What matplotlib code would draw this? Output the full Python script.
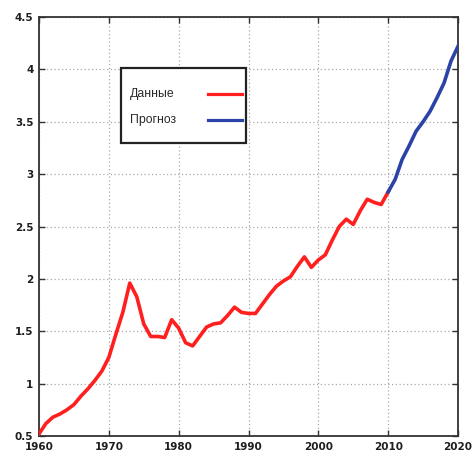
import matplotlib
matplotlib.use("Agg")
import matplotlib.pyplot as plt
from matplotlib.patches import Rectangle

# Observed series (1960-2010)
data_years = list(range(1960, 2011))
data_values = [0.52, 0.62, 0.68, 0.71, 0.75, 0.80, 0.88, 0.95, 1.03, 1.12,
               1.25, 1.47, 1.68, 1.96, 1.83, 1.57, 1.45, 1.45, 1.44, 1.61,
               1.53, 1.39, 1.36, 1.45, 1.54, 1.57, 1.58, 1.65, 1.73, 1.68,
               1.67, 1.67, 1.76, 1.85, 1.93, 1.98, 2.02, 2.12, 2.21, 2.11,
               2.18, 2.23, 2.37, 2.50, 2.57, 2.52, 2.65, 2.76, 2.73, 2.71,
               2.83]

# Forecast series (2010-2020)
forecast_years = list(range(2010, 2021))
forecast_values = [2.83, 2.95, 3.14, 3.27, 3.41, 3.50, 3.60, 3.73, 3.87, 4.08, 4.22]

x_ticks = [1960, 1970, 1980, 1990, 2000, 2010, 2020]
y_ticks = [0.5, 1, 1.5, 2, 2.5, 3, 3.5, 4, 4.5]
y_tick_labels = ["0.5", "1", "1.5", "2", "2.5", "3", "3.5", "4", "4.5"]
legend_labels = ["Данные", "Прогноз"]

red = "#ff1f1f"
blue = "#2b43a6"

fig = plt.figure(figsize=(4.73, 4.54), dpi=100)
ax = fig.add_axes([39 / 473, 18 / 454, 419 / 473, 419 / 454])

ax.plot(data_years, data_values, color=red, lw=2.6, solid_joinstyle="round", zorder=3)
ax.plot(forecast_years, forecast_values, color=blue, lw=2.6, solid_joinstyle="round", zorder=3)

ax.set_xlim(1960, 2020)
ax.set_ylim(0.5, 4.5)
ax.set_xticks(x_ticks)
ax.set_yticks(y_ticks)
ax.set_yticklabels(y_tick_labels)

ax.grid(True, color="#a8a8a8", linestyle=(0, (1, 2)), lw=0.9)
ax.tick_params(direction="in", length=4, width=1, color="#333333",
               top=True, right=True, labelsize=7.5, pad=4)
for lab in ax.get_xticklabels() + ax.get_yticklabels():
    lab.set_fontweight("bold")
    lab.set_fontfamily("DejaVu Sans")
    lab.set_color("#1e1e1e")
for sp in ax.spines.values():
    sp.set_linewidth(1.3)
    sp.set_color("#333333")

# Legend box: labels on the left, line samples on the right
to_ax = lambda px, py: ((px - 39) / 419, (437 - py) / 419)
x0, y0 = to_ax(121, 144)
x1, y1 = to_ax(246, 69)
ax.add_patch(Rectangle((x0, y0), x1 - x0, y1 - y0, transform=ax.transAxes,
                       facecolor="white", edgecolor="#222222", lw=1.6, zorder=5))
for label, color, py in zip(legend_labels, [red, blue], [95, 121]):
    tx, ty = to_ax(130, py)
    ax.text(tx, ty, label, transform=ax.transAxes, fontsize=8.8,
            family="Liberation Sans", color="#2a2a2a", va="center", ha="left", zorder=6)
    lx0, ly = to_ax(208, py)
    lx1, _ = to_ax(242, py)
    ax.plot([lx0, lx1], [ly, ly], transform=ax.transAxes, color=color, lw=2.3, zorder=6)

fig.savefig("out.png", dpi=100)
